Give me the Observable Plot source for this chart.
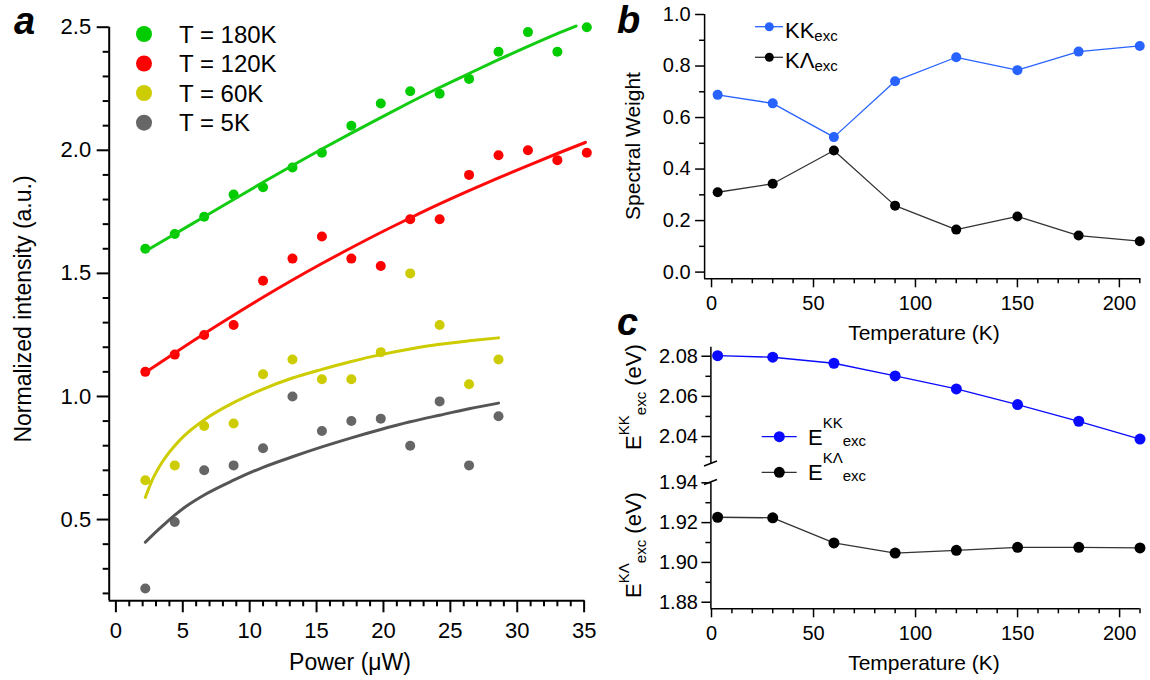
<!DOCTYPE html>
<html><head><meta charset="utf-8">
<script src="https://cdn.jsdelivr.net/npm/d3@7"></script>
<script src="https://cdn.jsdelivr.net/npm/@observablehq/plot@0.6"></script>
<style>
html,body{margin:0;padding:0;background:#fff;}
#fig{position:relative;width:1150px;height:680px;overflow:hidden;background:#fff;}
</style></head><body><div id="fig"></div>
<script>
// ---------- Panel a data ----------
const power = [2.2,4.4,6.6,8.8,11,13.2,15.4,17.6,19.8,22,24.2,26.4,28.6,30.8,33,35.2];
const int180 = [1.60,1.66,1.73,1.82,1.85,1.93,1.99,2.10,2.19,2.24,2.23,2.29,2.40,2.48,2.40,2.50];
const int120 = [1.10,1.17,1.25,1.29,1.47,1.56,1.65,1.56,1.53,1.72,1.72,1.90,1.98,2.00,1.96,1.99];
const int60  = [0.66,0.72,0.88,0.89,1.09,1.15,1.07,1.07,1.18,1.50,1.29,1.05,1.15];
const int5   = [0.22,0.49,0.70,0.72,0.79,1.00,0.86,0.90,0.91,0.80,0.98,0.72,0.92];
// fitted curves
const fitP180 = [2.2,4.4,6.6,8.8,11,13.2,15.4,17.6,19.8,22,24.2,26.4,28.6,30.8,33,34.4];
const fit180  = [1.59,1.66,1.73,1.80,1.87,1.938,2.005,2.07,2.133,2.195,2.255,2.312,2.368,2.422,2.474,2.505];
const fitP120 = [2.2,4.4,6.6,8.8,11,13.2,15.4,17.6,19.8,22,24.2,26.4,28.6,30.8,33,35.1];
const fit120  = [1.097,1.177,1.255,1.330,1.403,1.473,1.540,1.604,1.666,1.725,1.782,1.836,1.888,1.938,1.987,2.032];
const fitPLow = [2.2,2.8,3.3,3.8,4.4,5.1,6.6,8.8,11,13.2,15.4,17.6,19.8,22,24.2,26.4,28.6];
const fit60   = [0.59,0.67,0.72,0.76,0.80,0.84,0.905,0.975,1.03,1.075,1.11,1.142,1.17,1.193,1.212,1.226,1.238];
const fit5    = [0.408,0.44,0.465,0.49,0.518,0.548,0.600,0.660,0.712,0.755,0.795,0.832,0.866,0.897,0.924,0.950,0.973];
const seriesA = ["T = 180K","T = 120K","T = 60K","T = 5K"];
const colorsA = ["#00cc00","#ff0000","#cccc00","#666666"];
const lineColorsA = ["#11cc11","#ff0a0a","#cccc00","#555555"];

// ---------- Panel b / c data ----------
const temps = [3,30,60,90,120,150,180,210];
const weightKK = [0.688,0.655,0.524,0.741,0.834,0.784,0.856,0.878];
const weightKL = [0.310,0.343,0.472,0.258,0.165,0.216,0.142,0.120];
const energyKK = [2.0803,2.0795,2.0765,2.0702,2.0637,2.0559,2.0476,2.0387];
const energyKL = [1.9227,1.9224,1.9098,1.9047,1.9061,1.9076,1.9076,1.9073];

// ---------- Tick values ----------
const aXMajor = [0,5,10,15,20,25,30,35];
const aXMinor = d3.range(0,36).filter(v => v % 5 !== 0);
const aYMajor = [0.5,1.0,1.5,2.0,2.5];
const aYMinor = [0.2,0.3,0.4,0.6,0.7,0.8,0.9,1.1,1.2,1.3,1.4,1.6,1.7,1.8,1.9,2.1,2.2,2.3,2.4];
const tMajor = [0,50,100,150,200];
const tMinor = d3.range(10,211,10).filter(v => v % 50 !== 0);
const bYMajor = [0.0,0.2,0.4,0.6,0.8,1.0];
const bYMinor = [0.1,0.3,0.5,0.7,0.9];
const cTopMajor = [2.04,2.06,2.08];
const cTopMinor = [2.03,2.05,2.07];
const cBotMajor = [1.88,1.90,1.92,1.94];
const cBotMinor = [1.89,1.91,1.93];

const FONT = '"Liberation Sans", Arial, Helvetica, sans-serif';
const baseStyle = {background: "transparent", overflow: "visible", fontFamily: FONT, color: "#000"};
const blueB = "#2863ff", blueC = "#0a0aff";

function place(svg, left, top) {
  svg.style.position = "absolute";
  svg.style.left = left + "px";
  svg.style.top = top + "px";
  svg.style.maxWidth = "none";
  document.getElementById("fig").appendChild(svg);
}
// decorations (titles, legends, panel letters) in page coordinates
function deco(ox, oy, draw) {
  return () => {
    const g = d3.create("svg:g").attr("transform", `translate(${-ox},${-oy})`)
      .attr("font-family", FONT).attr("text-anchor", "start");
    draw(g);
    return g.node();
  };
}
function txt(g, x, y, s, size, o = {}) {
  const t = g.append("text").attr("x", x).attr("y", y).attr("font-size", size).attr("fill", "#000")
    .attr("text-anchor", o.anchor || "start").text(s);
  if (o.weight) t.attr("font-weight", o.weight);
  if (o.italic) t.attr("font-style", "italic");
  if (o.rotate) t.attr("transform", `rotate(${o.rotate},${x},${y})`);
  return t;
}
function rich(g, x, y, parts, o = {}) {
  const t = g.append("text").attr("x", x).attr("y", y).attr("fill", "#000")
    .attr("text-anchor", o.anchor || "start");
  if (o.rotate) t.attr("transform", `rotate(${o.rotate},${x},${y})`);
  let cur = 0;
  for (const p of parts) {
    const s = p.shift || 0;
    t.append("tspan").attr("dy", s - cur).attr("font-size", p.size).text(p.t);
    cur = s;
  }
  return t;
}

// ================= Panel a =================
const aMarks = [
  Plot.axisX({ticks: aXMinor, tickSize: 6, tickFormat: () => "", strokeWidth: 2, label: null}),
  Plot.axisX({ticks: aXMajor, tickSize: 12, tickPadding: 10, tickFormat: d => String(d), fontSize: 22, strokeWidth: 2, label: null}),
  Plot.axisY({ticks: aYMinor, tickSize: 6, tickFormat: () => "", strokeWidth: 2, label: null}),
  Plot.axisY({ticks: aYMajor, tickSize: 12, tickPadding: 6, tickFormat: d3.format(".1f"), fontSize: 22, strokeWidth: 2, label: null}),
  Plot.ruleX([-0.5], {strokeWidth: 2, stroke: "#000"}),
  Plot.ruleY([0.17], {strokeWidth: 2, stroke: "#000"})
];
const aPoints = [int180, int120, int60, int5];
const aFitX = [fitP180, fitP120, fitPLow, fitPLow];
const aFitY = [fit180, fit120, fit60, fit5];
for (let s = 3; s >= 0; s--) {
  aMarks.push(Plot.dot(aPoints[s], {x: (d, i) => power[i], y: d => d, r: 5, fill: colorsA[s], stroke: "none"}));
}
for (let s = 3; s >= 0; s--) {
  const fx = aFitX[s];
  aMarks.push(Plot.line(aFitY[s], {x: (d, i) => fx[i], y: d => d, curve: "monotone-x", stroke: lineColorsA[s], strokeWidth: 3}));
}
aMarks.push(deco(0, 0, g => {
  txt(g, 14, 34, "a", 38, {weight: "bold", italic: true});
  txt(g, 31, 309, "Normalized intensity (a.u.)", 23, {anchor: "middle", rotate: -90});
  txt(g, 350, 670, "Power (μW)", 23, {anchor: "middle"});
  const ly = [34, 63.5, 93, 122.7];
  seriesA.forEach((name, i) => {
    g.append("circle").attr("cx", 144).attr("cy", ly[i]).attr("r", 8).attr("fill", colorsA[i]);
    txt(g, 179, ly[i] + 8.6, name, 24);
  });
}));
const plotA = Plot.plot({
  width: 600, height: 680,
  marginLeft: 108.7, marginRight: 15.7, marginTop: 26.7, marginBottom: 79.7,
  x: {domain: [-0.5, 35.05]},
  y: {domain: [0.17, 2.5]},
  style: baseStyle,
  marks: aMarks
});
place(plotA, 0, 0);

// ================= Panel b =================
const plotB = Plot.plot({
  width: 570, height: 340,
  marginLeft: 124.1, marginRight: 9.7, marginTop: 14, marginBottom: 61.7,
  x: {domain: [-3.4, 210.5]},
  y: {domain: [-0.026, 1.0]},
  style: baseStyle,
  marks: [
    Plot.axisX({ticks: tMinor, tickSize: 5, tickFormat: () => "", strokeWidth: 1.5, label: null}),
    Plot.axisX({ticks: tMajor, tickSize: 9, tickPadding: 8, tickFormat: d => String(d), fontSize: 20, strokeWidth: 1.5, label: null}),
    Plot.axisY({ticks: bYMinor, tickSize: 5, tickFormat: () => "", strokeWidth: 1.5, label: null}),
    Plot.axisY({ticks: bYMajor, tickSize: 9, tickPadding: 5, tickFormat: d3.format(".1f"), fontSize: 20, strokeWidth: 1.5, label: null}),
    Plot.ruleX([-3.4], {strokeWidth: 1.5, stroke: "#000"}),
    Plot.ruleY([-0.026], {strokeWidth: 1.5, stroke: "#000"}),
    Plot.line(weightKK, {x: (d, i) => temps[i], y: d => d, stroke: blueB, strokeWidth: 1.3}),
    Plot.line(weightKL, {x: (d, i) => temps[i], y: d => d, stroke: "#333", strokeWidth: 1.3}),
    Plot.dot(weightKK, {x: (d, i) => temps[i], y: d => d, r: 5, fill: blueB, stroke: "none"}),
    Plot.dot(weightKL, {x: (d, i) => temps[i], y: d => d, r: 5, fill: "#000", stroke: "none"}),
    deco(580, 0, g => {
      txt(g, 617, 33, "b", 38, {weight: "bold", italic: true});
      txt(g, 640, 146, "Spectral Weight", 21, {anchor: "middle", rotate: -90});
      txt(g, 924, 340, "Temperature (K)", 21, {anchor: "middle"});
      const rows = [{y: 26.7, c: blueB, t: "KK", lc: blueB}, {y: 57.3, c: "#000", t: "KΛ", lc: "#333"}];
      for (const r of rows) {
        g.append("line").attr("x1", 755).attr("x2", 783).attr("y1", r.y).attr("y2", r.y).attr("stroke", r.lc).attr("stroke-width", 1.3);
        g.append("circle").attr("cx", 769.3).attr("cy", r.y).attr("r", 4.5).attr("fill", r.c);
        rich(g, 785, r.y + 10.8, [{t: r.t, size: 22}, {t: "exc", size: 15, shift: 3}]);
      }
    })
  ]
});
place(plotB, 580, 0);

// ================= Panel c (broken axis: two parts) =================
const plotCTop = Plot.plot({
  width: 570, height: 140,
  marginLeft: 130.4, marginRight: 10.5, marginTop: 16.7, marginBottom: 6.7,
  x: {domain: [-0.3, 210], axis: null},
  y: {domain: [2.0264, 2.0845]},
  style: baseStyle,
  marks: [
    Plot.axisY({ticks: cTopMinor, tickSize: 5, tickFormat: () => "", strokeWidth: 1.5, label: null}),
    Plot.axisY({ticks: cTopMajor, tickSize: 9, tickPadding: 4, tickFormat: d3.format(".2f"), fontSize: 20, strokeWidth: 1.5, label: null}),
    Plot.ruleX([-0.3], {strokeWidth: 1.5, stroke: "#000"}),
    Plot.line(energyKK, {x: (d, i) => temps[i], y: d => d, stroke: blueC, strokeWidth: 1.3}),
    Plot.dot(energyKK, {x: (d, i) => temps[i], y: d => d, r: 5.5, fill: blueC, stroke: "none"}),
    deco(580, 330, g => {
      txt(g, 617, 335, "c", 38, {weight: "bold", italic: true});
      // axis break marks
      g.append("line").attr("x1", 704).attr("y1", 466).attr("x2", 717).attr("y2", 461).attr("stroke", "#000").attr("stroke-width", 1.5);
      g.append("line").attr("x1", 704).attr("y1", 484.5).attr("x2", 717).attr("y2", 479.5).attr("stroke", "#000").attr("stroke-width", 1.5);
      rich(g, 641, 397, [{t: "E", size: 22}, {t: "KK", size: 15, shift: -12}, {t: "exc", size: 15, shift: 5}, {t: " (eV)", size: 22}], {anchor: "middle", rotate: -90});
      rich(g, 641, 545, [{t: "E", size: 22}, {t: "KΛ", size: 15, shift: -12}, {t: "exc", size: 15, shift: 5}, {t: " (eV)", size: 22}], {anchor: "middle", rotate: -90});
      const rows = [{y: 436.7, c: blueC, t: "KK", lc: blueC}, {y: 472.3, c: "#000", t: "KΛ", lc: "#333"}];
      for (const r of rows) {
        g.append("line").attr("x1", 761.7).attr("x2", 796.7).attr("y1", r.y).attr("y2", r.y).attr("stroke", r.lc).attr("stroke-width", 1.3);
        g.append("circle").attr("cx", 779.3).attr("cy", r.y).attr("r", 5.5).attr("fill", r.c);
        rich(g, 808, r.y + 8, [{t: "E", size: 22}, {t: r.t, size: 15, shift: -17}, {t: "exc", size: 15, shift: 1}]);
      }
    })
  ]
});
place(plotCTop, 580, 330);

const plotCBot = Plot.plot({
  width: 570, height: 210,
  marginLeft: 130.4, marginRight: 10.5, marginTop: 12.3, marginBottom: 71.7,
  x: {domain: [-0.3, 210]},
  y: {domain: [1.8767, 1.94]},
  style: baseStyle,
  marks: [
    Plot.axisX({ticks: tMinor, tickSize: 5, tickFormat: () => "", strokeWidth: 1.5, label: null}),
    Plot.axisX({ticks: tMajor, tickSize: 9, tickPadding: 8, tickFormat: d => String(d), fontSize: 20, strokeWidth: 1.5, label: null}),
    Plot.axisY({ticks: cBotMinor, tickSize: 5, tickFormat: () => "", strokeWidth: 1.5, label: null}),
    Plot.axisY({ticks: cBotMajor, tickSize: 9, tickPadding: 4, tickFormat: d3.format(".2f"), fontSize: 20, strokeWidth: 1.5, label: null}),
    Plot.ruleX([-0.3], {strokeWidth: 1.5, stroke: "#000"}),
    Plot.ruleY([1.8767], {strokeWidth: 1.5, stroke: "#000"}),
    Plot.line(energyKL, {x: (d, i) => temps[i], y: d => d, stroke: "#333", strokeWidth: 1.3}),
    Plot.dot(energyKL, {x: (d, i) => temps[i], y: d => d, r: 5.5, fill: "#000", stroke: "none"}),
    deco(580, 470, g => {
      txt(g, 924, 670, "Temperature (K)", 21, {anchor: "middle"});
    })
  ]
});
place(plotCBot, 580, 470);
</script></body></html>
